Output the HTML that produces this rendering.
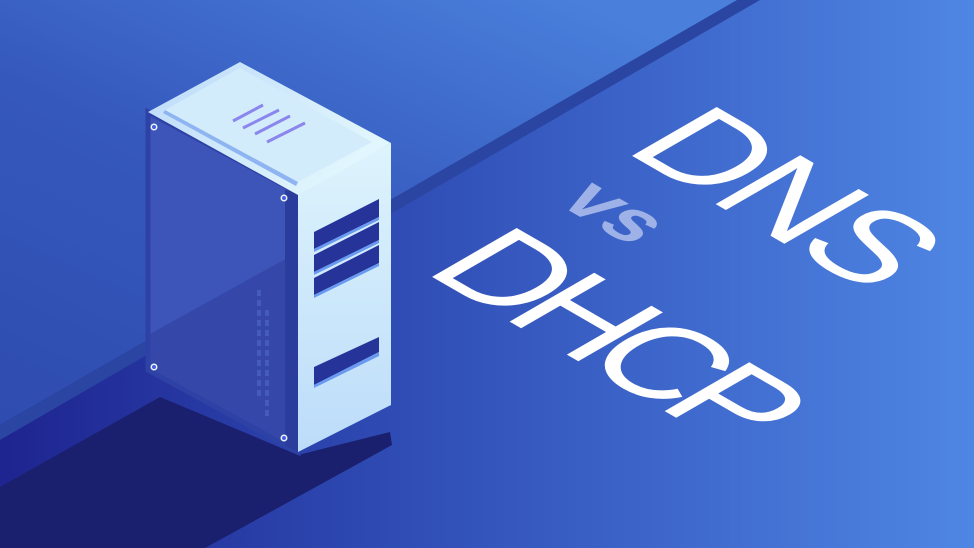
<!DOCTYPE html>
<html><head><meta charset="utf-8"><style>
html,body{margin:0;padding:0;width:974px;height:548px;overflow:hidden;background:#2a3aa0}
svg{display:block}
</style></head><body>
<svg width="974" height="548" viewBox="0 0 974 548" xmlns="http://www.w3.org/2000/svg">
<defs>
<linearGradient id="floor" x1="0" y1="0" x2="1" y2="0">
<stop offset="0" stop-color="#1e2490"/><stop offset="0.45" stop-color="#3150b8"/><stop offset="1" stop-color="#4f86e4"/>
</linearGradient>
<linearGradient id="wall" x1="0" y1="1" x2="0.8" y2="0">
<stop offset="0" stop-color="#2f4cb0"/><stop offset="0.5" stop-color="#3558bc"/><stop offset="1" stop-color="#4a80dc"/>
</linearGradient>
<linearGradient id="rface" x1="0" y1="0" x2="0" y2="1">
<stop offset="0" stop-color="#def4fd"/><stop offset="1" stop-color="#bcdcf9"/>
</linearGradient>
<linearGradient id="tface" x1="0" y1="0" x2="1" y2="0.5">
<stop offset="0" stop-color="#bcdaf9"/><stop offset="1" stop-color="#e2f7fd"/>
</linearGradient>
</defs>
<rect width="974" height="548" fill="url(#floor)"/>
<!-- wall -->
<polygon points="0,0 737,0 0,425" fill="url(#wall)"/>
<polygon points="0,425 737,0 760,0 0,440" fill="#2b45a2"/>
<!-- shadow -->
<polygon points="0,487 160,397 298,455 390,432 392,445 205,548 0,548" fill="#1a1f6e"/>
<!-- server left face -->
<polygon points="148,112 298,193 298,452 148,370" fill="#3d55b8"/>
<polygon points="148,335 298,252 298,452 148,370" fill="#3447a8" opacity="0.9"/>
<polygon points="148,112 298,193 298,452 148,370" fill="none" stroke="#2e41a4" stroke-width="5"/>
<polygon points="285,190 298,193 298,452 285,445" fill="#2a3c9c"/>
<g fill="#4a60c0" opacity="0.8">
<rect x="257" y="290" width="4" height="6"/><rect x="257" y="300" width="4" height="6"/><rect x="257" y="310" width="4" height="6"/><rect x="257" y="320" width="4" height="6"/><rect x="257" y="330" width="4" height="6"/><rect x="257" y="340" width="4" height="6"/><rect x="257" y="350" width="4" height="6"/><rect x="257" y="360" width="4" height="6"/><rect x="257" y="370" width="4" height="6"/><rect x="257" y="380" width="4" height="6"/><rect x="257" y="390" width="4" height="6"/>
<rect x="265" y="310" width="4" height="6"/><rect x="265" y="320" width="4" height="6"/><rect x="265" y="330" width="4" height="6"/><rect x="265" y="340" width="4" height="6"/><rect x="265" y="350" width="4" height="6"/><rect x="265" y="360" width="4" height="6"/><rect x="265" y="370" width="4" height="6"/><rect x="265" y="380" width="4" height="6"/><rect x="265" y="390" width="4" height="6"/><rect x="265" y="400" width="4" height="6"/><rect x="265" y="410" width="4" height="6"/>
</g>
<!-- right face -->
<polygon points="298,193 391,143 391,405 298,452" fill="url(#rface)"/>
<g fill="#26349a">
<polygon points="314,232 379,199 379,217 314,249"/>
<polygon points="314,255 379,222 379,240 314,272"/>
<polygon points="314,278 379,245 379,263 314,295"/>
<polygon points="314,367 379,337 379,352 314,385"/>
</g>
<g fill="#6a9af0">
<polygon points="314,249 379,217 379,220 314,252"/>
<polygon points="314,272 379,240 379,243 314,275"/>
<polygon points="314,295 379,263 379,266 314,298"/>
<polygon points="314,385 379,352 379,356 314,388"/>
</g>
<!-- top face -->
<polygon points="148,112 240,62 391,143 298,195" fill="url(#tface)"/>
<polygon points="165,110 240,68 372,142 298,182" fill="#d2ecfc"/>
<polygon points="165,110 298,182 296,186 163,113" fill="#8fb4f2"/>
<g stroke="#8a86ee" stroke-width="3">
<line x1="233" y1="121" x2="263" y2="105"/>
<line x1="243" y1="128" x2="279" y2="110"/>
<line x1="255" y1="134" x2="290" y2="116"/>
<line x1="267" y1="142" x2="305" y2="123"/>
</g>
<g fill="#e8f4ff"><circle cx="154" cy="127" r="3.5"/><circle cx="284" cy="198" r="3.5"/><circle cx="154" cy="367" r="3.5"/><circle cx="284" cy="438" r="3.5"/></g>
<g fill="#4a5ee0"><circle cx="154" cy="127" r="2"/><circle cx="284" cy="198" r="2"/><circle cx="154" cy="367" r="2"/><circle cx="284" cy="438" r="2"/></g>
<!-- text -->
<g font-family="'Liberation Sans', 'DejaVu Sans', sans-serif" fill="#ffffff">
<text transform="matrix(0.866,0.5,-0.866,0.5,622,150)" font-size="142" letter-spacing="-6">DNS</text>
<text transform="matrix(0.866,0.5,-0.866,0.5,422,271)" font-size="142" letter-spacing="-13">DHCP</text>
<text transform="matrix(0.866,0.5,-0.866,0.5,556,203)" font-size="78" font-weight="bold" fill="#9fb2e8">vs</text>
</g>
</svg>
</body></html>
